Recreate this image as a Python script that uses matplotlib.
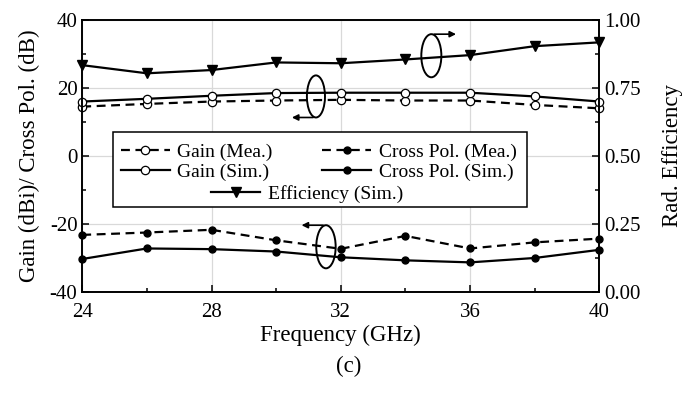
import numpy as np
import matplotlib
matplotlib.use("Agg")
import matplotlib.pyplot as plt
from matplotlib.patches import Ellipse, Rectangle

plt.rcParams['font.family'] = 'Liberation Serif'
plt.rcParams['axes.unicode_minus'] = False

# --- data ---
freq = [24, 26, 28, 30, 32, 34, 36, 38, 40]
gain_mea = [14.5, 15.3, 16.0, 16.3, 16.5, 16.3, 16.3, 15.0, 14.0]
gain_sim = [16.0, 16.8, 17.7, 18.5, 18.6, 18.6, 18.6, 17.5, 16.0]
xpol_mea = [-23.3, -22.6, -21.8, -24.9, -27.4, -23.6, -27.3, -25.5, -24.4]
xpol_sim = [-30.4, -27.3, -27.5, -28.2, -29.9, -30.8, -31.4, -30.1, -27.7]
eff_sim = [0.834, 0.804, 0.816, 0.844, 0.841, 0.855, 0.871, 0.904, 0.918]

x_ticks = [24, 28, 32, 36, 40]
left_ticks = [-40, -20, 0, 20, 40]
right_ticks = [0.0, 0.25, 0.5, 0.75, 1.0]

fig = plt.figure(figsize=(6.97, 3.94), dpi=100)
ax = fig.add_axes([0.118, 0.260, 0.742, 0.689])
ax2 = ax.twinx()

lw = 1.6
dash = (0, (4, 2.5))
l_gm, = ax.plot(freq, gain_mea, color='black', lw=lw, linestyle=dash, marker='o',
                markersize=6, markerfacecolor='white', markeredgewidth=0.9, clip_on=False)
l_gs, = ax.plot(freq, gain_sim, color='black', lw=lw, linestyle='-', marker='o',
                markersize=6, markerfacecolor='white', markeredgewidth=0.9, clip_on=False)
l_cm, = ax.plot(freq, xpol_mea, color='black', lw=lw, linestyle=dash, marker='o',
                markersize=5, clip_on=False)
l_cs, = ax.plot(freq, xpol_sim, color='black', lw=lw, linestyle='-', marker='o',
                markersize=5, clip_on=False)
l_ef, = ax2.plot(freq, eff_sim, color='black', lw=lw, linestyle='-', marker='v',
                 markersize=7, clip_on=False)

ax.set_xlim(24, 40)
ax.set_ylim(-40, 40)
ax2.set_ylim(0, 1)
ax.set_xticks(x_ticks)
ax.set_xticks(np.arange(24, 41, 2), minor=True)
ax.set_yticks(left_ticks)
ax.set_yticks(np.arange(-40, 41, 10), minor=True)
ax2.set_yticks(right_ticks)
ax2.set_yticks(np.arange(0, 1.01, 0.125), minor=True)
ax2.set_yticklabels(['%.2f' % v for v in right_ticks])

for a in (ax, ax2):
    a.tick_params(which='both', direction='in', labelsize=15, width=1.1)
    a.tick_params(which='major', length=5)
    a.tick_params(which='minor', length=3)
    for s in a.spines.values():
        s.set_linewidth(1.2)
ax.tick_params(axis='x', pad=8)
ax.grid(True, which='major', color='#d9d9d9', lw=0.9)
ax.set_axisbelow(True)

ax.set_xlabel('Frequency (GHz)', fontsize=16.5, labelpad=2)
ax.set_ylabel('Gain (dBi)/ Cross Pol. (dB)', fontsize=16.5, labelpad=7)
ax2.set_ylabel('Rad. Efficiency', fontsize=16.5, labelpad=15)

# legend: frame drawn by hand so the last entry can sit centred on its own row
ax2.add_patch(Rectangle((0.059, 0.312), 0.801, 0.276, transform=ax2.transAxes,
                        facecolor='white', edgecolor='black', lw=1.1, zorder=5))
leg1 = ax2.legend([l_gm, l_gs, l_cm, l_cs],
                  ['Gain (Mea.)', 'Gain (Sim.)', 'Cross Pol. (Mea.)', 'Cross Pol. (Sim.)'],
                  ncol=2, frameon=False, fontsize=14, handlelength=2.5, handletextpad=0.4,
                  columnspacing=2.55, labelspacing=0.12, borderpad=0,
                  loc='center left', bbox_to_anchor=(0.056, 0.477))
leg1.set_zorder(6)
ax2.add_artist(leg1)
leg2 = ax2.legend([l_ef], ['Efficiency (Sim.)'], frameon=False, fontsize=14,
                  handlelength=2.5, handletextpad=0.4, borderpad=0,
                  loc='center', bbox_to_anchor=(0.435, 0.359))
leg2.set_zorder(6)

# ellipse + arrow markers showing which axis a curve belongs to
ax.add_patch(Ellipse((34.8, 29.5), 0.62, 12.7, fill=False, ec='black', lw=1.4, zorder=4))
ax.annotate('', xy=(35.65, 35.85), xytext=(34.8, 35.85),
            arrowprops=dict(arrowstyle='-|>', color='black', lw=1.2, mutation_scale=9))
ax.add_patch(Ellipse((31.23, 17.5), 0.56, 12.4, fill=False, ec='black', lw=1.4, zorder=4))
ax.annotate('', xy=(30.4, 11.3), xytext=(31.23, 11.3),
            arrowprops=dict(arrowstyle='-|>', color='black', lw=1.2, mutation_scale=9))
ax.add_patch(Ellipse((31.54, -26.8), 0.6, 12.7, fill=False, ec='black', lw=1.4, zorder=4))
ax.annotate('', xy=(30.7, -20.45), xytext=(31.54, -20.45),
            arrowprops=dict(arrowstyle='-|>', color='black', lw=1.2, mutation_scale=9))

fig.text(0.50, 0.070, '(c)', ha='center', va='center', fontsize=16.5)

fig.savefig('out.png', dpi=100)
